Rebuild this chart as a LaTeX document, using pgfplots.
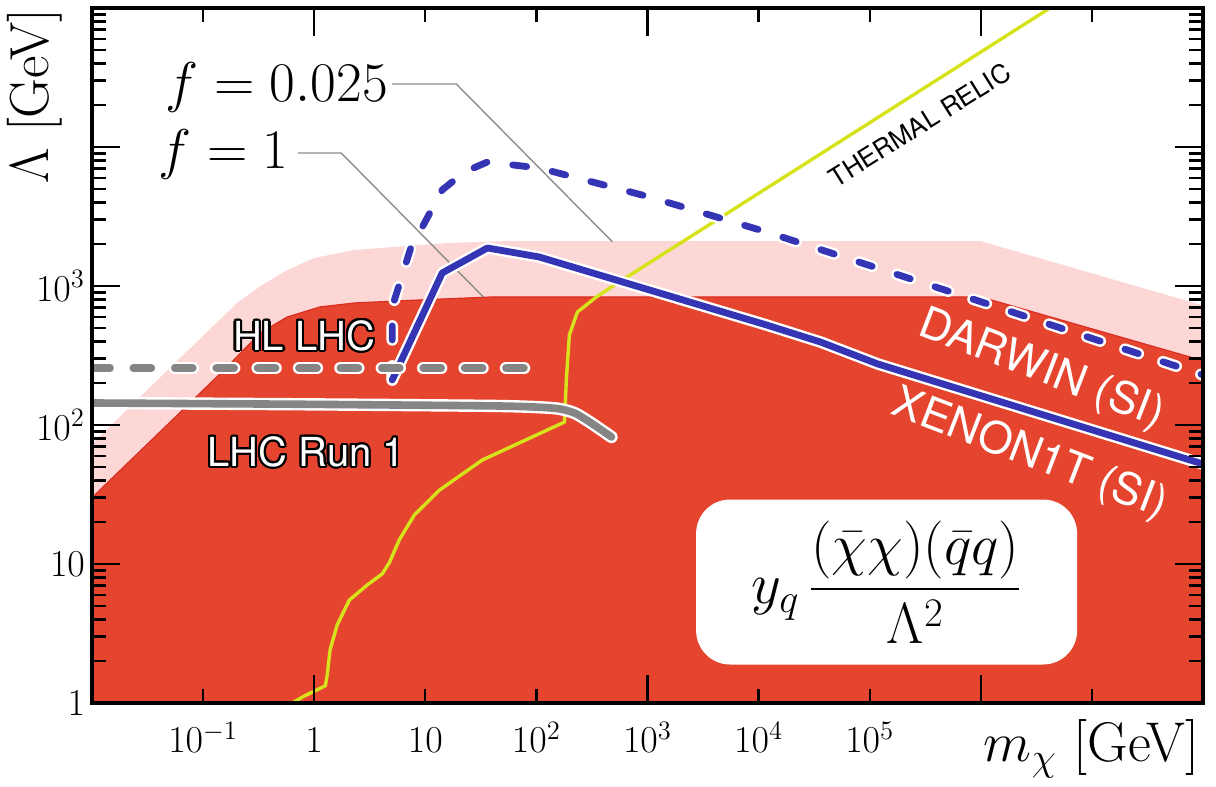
\RequirePackage{fix-cm}
\documentclass[border=0pt]{standalone}
\usepackage{amsmath}
\usepackage{pgfplots}
\pgfplotsset{compat=1.18}
\usepackage{fontspec}
\newfontfamily\hv{TeX Gyre Heros}
\usepackage{contour}
\contourlength{1.1pt}
\definecolor{xred}{HTML}{E5452F}
\definecolor{xredd}{HTML}{DA2E22}
\definecolor{xpink}{HTML}{FDD6D6}
\definecolor{xblue}{HTML}{3434B4}
\definecolor{xgray}{HTML}{858585}
\definecolor{xyellow}{HTML}{D6E31B}
\definecolor{xlead}{HTML}{8C8C8C}
\tikzset{xlab/.style={anchor=base, yshift=-25pt, inner sep=0pt, font=\fontsize{19}{20}\selectfont}}

\begin{document}
\begin{tikzpicture}
\begin{axis}[
  name=ax,
  xmode=log, ymode=log,
  scale only axis,
  width=555.5pt, height=347.5pt,
  xmin=0.01, xmax=1e8, ymin=1, ymax=1e5,
  axis on top,
  clip mode=individual,
  axis line style={line width=1.8pt},
  tick style={black, line width=1.2pt},
  major tick length=14pt,
  minor tick length=7pt,
  xtick={1,1000,1000000},
  xticklabels={,,},
  minor xtick={0.01,0.1,10,100,10000,100000,10000000,100000000},
  ytick={1,10,100,1000,10000,100000},
  yticklabels={$1$,$10$,$10^2$,$10^3$,{},{}},
  minor ytick={2,3,4,5,6,7,8,9,20,30,40,50,60,70,80,90,200,300,400,500,600,700,800,900,2000,3000,4000,5000,6000,7000,8000,9000,20000,30000,40000,50000,60000,70000,80000,90000},
  ticklabel style={font=\fontsize{19}{20}\selectfont},
]
% DARWIN (SI) region
\addplot[fill=xpink, draw=none] coordinates {
 (0.01,1) (0.01,73) (0.027,159) (0.202,755) (0.33,1000) (0.571,1303) (1,1589) (2.29,1816) (9,1972) (15.8,2038) (50,2100) (1e6,2100) (1e8,725) (1e8,1)};
% XENON1T (SI) region
\addplot[fill=xred, draw=xredd, line width=0.6pt] coordinates {
 (0.01,1) (0.01,30) (0.164,261) (0.326,459) (0.571,598) (1.13,707) (2.29,755) (9,794) (40,834) (1e6,834) (1e8,290) (1e8,1)};
% thermal relic
\addplot[xyellow, line width=1.7pt, line join=round] coordinates {
 (0.634,1) (0.81,1.12) (1.26,1.33) (1.31,1.59) (1.39,2.41) (1.61,3.64) (2.07,5.5) (3.0,7.06) (4.1,8.5) (4.74,10.2) (5.83,14.9) (7.96,22.5) (13.4,34) (32.6,56) (179,105) (186,211) (198,444) (234,650) (347,834) (504,1016) (4.2e6,1e5)};
% leader lines
\addplot[xlead, line width=0.7pt] coordinates {(5.04,28400) (19.0,28400) (484,2073)};
\addplot[xlead, line width=0.7pt] coordinates {(0.718,9060) (1.75,9060) (33.3,834)};
% LHC Run 1
\addplot[white, line width=6.2pt, line cap=round, line join=round, smooth, tension=0.4] coordinates {(0.01,144) (0.73,141) (46,137) (145,132) (220,122) (313,103) (474,82)};
\addplot[xgray, line width=3.8pt, line cap=round, line join=round, smooth, tension=0.4] coordinates {(0.01,144) (0.73,141) (46,137) (145,132) (220,122) (313,103) (474,82)};
% DARWIN f=0.025 (dashed)
\addplot[white, line width=5.8pt, line cap=round, line join=round, dash pattern=on 7pt off 13pt] coordinates {
 (5.04,211) (5.04,706) (7.64,2038) (9.4,2655) (14.2,4910) (22.5,6610) (36.2,7800) (106,7060) (1042,4370) (1.18e4,2446) (1.02e6,767) (1e8,229)};
\addplot[xblue, line width=3.4pt, line cap=round, line join=round, dash pattern=on 7pt off 13pt] coordinates {
 (5.04,211) (5.04,706) (7.64,2038) (9.4,2655) (14.2,4910) (22.5,6610) (36.2,7800) (106,7060) (1042,4370) (1.18e4,2446) (1.02e6,767) (1e8,229)};
% XENON1T f=1 (solid)
\addplot[white, line width=5.8pt, line cap=round, line join=round] coordinates {
 (5.04,211) (14.2,1241) (36.2,1877) (106,1617) (1042,936) (1.18e4,524) (3.62e4,395) (1.18e5,275) (1e8,52.4)};
\addplot[xblue, line width=3.4pt, line cap=round, line join=round] coordinates {
 (5.04,211) (14.2,1241) (36.2,1877) (106,1617) (1042,936) (1.18e4,524) (3.62e4,395) (1.18e5,275) (1e8,52.4)};
% HL LHC (dashed gray)
\addplot[white, line width=6.2pt, line cap=round, dash pattern=on 9pt off 11.7pt] coordinates {(0.01,257) (80,257)};
\addplot[xgray, line width=3.8pt, line cap=round, dash pattern=on 9pt off 11.7pt] coordinates {(0.01,257) (80,257)};
% x tick labels
\node[xlab] at (axis cs:0.1,1) {$10^{-1}$};
\node[xlab] at (axis cs:1,1) {$1$};
\node[xlab] at (axis cs:10,1) {$10$};
\node[xlab] at (axis cs:100,1) {$10^2$};
\node[xlab] at (axis cs:1000,1) {$10^3$};
\node[xlab] at (axis cs:10000,1) {$10^4$};
\node[xlab] at (axis cs:100000,1) {$10^5$};
% labels
\node[anchor=east, inner sep=0pt, font=\fontsize{28}{30}\selectfont] at (axis cs:4.64,27000) {$f = 0.025$};
\node[anchor=east, inner sep=0pt, font=\fontsize{28}{30}\selectfont] at (axis cs:0.595,8900) {$f = 1$};
\node[text=white, inner sep=0pt, font=\hv\fontsize{20}{22}\selectfont] at (axis cs:0.813,430) {\contour{black}{HL LHC}};
\node[text=white, inner sep=0pt, font=\hv\fontsize{20}{22}\selectfont] at (axis cs:0.847,63) {\contour{black}{LHC Run 1}};
\node[text=white, rotate=-21, inner sep=0pt, font=\hv\fontsize{22}{24}\selectfont] at (axis cs:3.5e6,249) {DARWIN (SI)};
\node[text=white, rotate=-21, inner sep=0pt, font=\hv\fontsize{22}{24}\selectfont] at (axis cs:2.76e6,60.8) {XENON1T (SI)};
\node[text=black, rotate=32, inner sep=0pt, font=\hv\fontsize{13}{15}\selectfont] at (axis cs:2.82e5,14400) {THERMAL RELIC};
\node[fill=white, rounded corners=17pt, minimum width=190.5pt, minimum height=82.5pt, inner sep=0pt, font=\fontsize{29}{32}\selectfont] at (axis cs:1.42e5,7.42) {$y_q\,\dfrac{(\bar\chi\chi)(\bar q q)}{\Lambda^2}$};
\end{axis}
\node[rotate=90, anchor=east, inner sep=0pt, font=\fontsize{27.5}{29}\selectfont] at ([xshift=-28.5pt]ax.north west) {$\Lambda$ [GeV]};
\node[anchor=base east, inner sep=0pt, font=\fontsize{28}{30}\selectfont] at ([xshift=-1.5pt, yshift=-29.5pt]ax.south east) {$m_\chi$ [GeV]};
\pgfresetboundingbox
\path[use as bounding box] ([xshift=-46pt,yshift=-42pt]ax.south west) rectangle ([xshift=6.5pt,yshift=4pt]ax.north east);
\end{tikzpicture}
\end{document}
